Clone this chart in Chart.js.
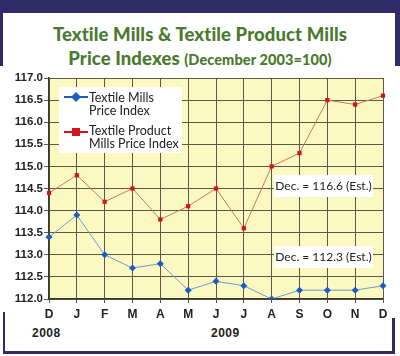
<!DOCTYPE html>
<html>
<head>
<meta charset="utf-8">
<script src="https://cdn.jsdelivr.net/npm/chart.js@4/dist/chart.umd.min.js"></script>
<style>
  html,body{margin:0;padding:0;background:#fff;}
  #wrap{position:relative;width:400px;height:356px;overflow:hidden;background:#fff;}
  .bar{position:absolute;background:#2f2b66;}
  #title{position:absolute;left:0;top:22px;width:400px;text-align:center;color:#4a7a2f;font-family:Lato,"Open Sans",sans-serif;font-weight:900;font-size:18.5px;line-height:24px;letter-spacing:0.1px;}
  #title .sub{font-size:14.5px;}
  .year{position:absolute;font-family:"Liberation Sans",Arial,sans-serif;font-weight:bold;font-size:12px;color:#222;letter-spacing:0.5px;}
  canvas{position:absolute;left:0;top:0;}
</style>
</head>
<body>
<div id="wrap">
  <div class="bar" style="left:0;top:0;width:400px;height:13px;"></div>
  <div class="bar" style="left:0;top:0;width:3px;height:66px;"></div>
  <div class="bar" style="left:395px;top:0;width:5px;height:66px;"></div>
  <div class="bar" style="left:3px;top:312px;width:2px;height:42px;"></div>
  <div class="bar" style="left:3px;top:351px;width:392px;height:3px;"></div>
  <div class="bar" style="left:392px;top:318px;width:3px;height:36px;"></div>
  <div id="title">Textile Mills &amp; Textile Product Mills<br>Price Indexes <span class="sub">(December 2003=100)</span></div>
  <div class="year" style="left:32px;top:326px;">2008</div>
  <div class="year" style="left:211px;top:326px;">2009</div>
  <canvas id="c" width="400" height="356"></canvas>
</div>
<script>
const months = ['D','J','F','M','A','M','J','J','A','S','O','N','D'];
const textileMills = [113.4,113.9,113.0,112.7,112.8,112.2,112.4,112.3,112.0,112.2,112.2,112.2,112.3];
const textileProductMills = [114.4,114.8,114.2,114.5,113.8,114.1,114.5,113.6,115.0,115.3,116.5,116.4,116.6];
const yMin = 112.0, yMax = 117.0, yStep = 0.5;
const legendLabels = [['Textile Mills','Price Index'],['Textile Product','Mills Price Index']];
const notes = ['Dec. = 116.6 (Est.)','Dec. = 112.3 (Est.)'];

const colBlueLine = '#6f9dc6', colBluePt = '#1a5cc0';
const colRedLine = '#c47a66', colRedPt = '#d4141c';

const deco = {
  id:'deco',
  beforeDraw(chart){
    const {ctx, chartArea:a} = chart;
    ctx.save();
    ctx.fillStyle = '#fcf8c2';
    ctx.fillRect(a.left, a.top, a.right-a.left, a.bottom-a.top);
    ctx.restore();
  },
  afterDraw(chart){
    const ctx = chart.ctx;
    ctx.save();
    ctx.fillStyle = '#fff';
    ctx.fillRect(59, 87, 123, 66);
    ctx.font = '12.5px Lato, "Open Sans", sans-serif';
    ctx.textBaseline = 'middle';
    const rows = [
      {ly:97, pc:colBluePt, diamond:true, t:legendLabels[0], ty:[98,111]},
      {ly:132, pc:colRedPt, diamond:false, t:legendLabels[1], ty:[131,144]}
    ];
    rows.forEach(r=>{
      ctx.strokeStyle = r.pc; ctx.lineWidth = 2;
      ctx.beginPath(); ctx.moveTo(64, r.ly); ctx.lineTo(88, r.ly); ctx.stroke();
      ctx.fillStyle = r.pc;
      ctx.beginPath();
      if (r.diamond){ ctx.moveTo(76, r.ly-5); ctx.lineTo(81, r.ly); ctx.lineTo(76, r.ly+5); ctx.lineTo(71, r.ly); }
      else { ctx.rect(72, r.ly-4, 8, 8); }
      ctx.closePath(); ctx.fill();
      ctx.fillStyle = '#222';
      ctx.textAlign = 'left';
      ctx.fillText(r.t[0], 89, r.ty[0]);
      ctx.fillText(r.t[1], 89, r.ty[1]);
    });
    const boxes = [{t:notes[0], cy:186}, {t:notes[1], cy:257}];
    ctx.font = '12px Lato, "Open Sans", sans-serif';
    boxes.forEach(b=>{
      ctx.fillStyle = '#fff';
      ctx.fillRect(274, b.cy-11, 99, 22);
      ctx.fillStyle = '#222';
      ctx.textAlign = 'center';
      ctx.fillText(b.t, 323.5, b.cy);
    });
    ctx.restore();
  }
};

new Chart(document.getElementById('c'), {
  type:'line',
  data:{
    labels: months,
    datasets:[
      {label:'Textile Mills Price Index', data:textileMills, borderColor:colBlueLine, borderWidth:1,
       pointStyle:'rectRot', pointRadius:3.5, pointBackgroundColor:colBluePt, pointBorderColor:colBluePt, pointBorderWidth:0, tension:0},
      {label:'Textile Product Mills Price Index', data:textileProductMills, borderColor:colRedLine, borderWidth:1,
       pointStyle:'rect', pointRadius:3, pointBackgroundColor:colRedPt, pointBorderColor:colRedPt, pointBorderWidth:0, tension:0}
    ]
  },
  options:{
    responsive:false, animation:false, devicePixelRatio:1,
    layout:{padding:{left:0, top:78, right:17, bottom:37}},
    plugins:{legend:{display:false}, tooltip:{enabled:false}, title:{display:false}},
    scales:{
      x:{
        offset:false,
        grid:{color:'#5c5a44', lineWidth:1, tickLength:4, drawTicks:true},
        border:{color:'#3a3a2a', width:1.5},
        ticks:{color:'#222', font:{family:'"Liberation Sans", Arial, sans-serif', weight:'bold', size:12}, padding:4, maxRotation:0, autoSkip:false},
        afterFit(s){ s.height = 20; }
      },
      y:{
        min:yMin, max:yMax,
        grid:{color:'#5c5a44', lineWidth:1, tickLength:5, drawTicks:true},
        border:{color:'#3a3a2a', width:1.5},
        ticks:{stepSize:yStep, color:'#222', font:{family:'"Liberation Sans", Arial, sans-serif', weight:'bold', size:11.5}, padding:1,
          callback:(v)=>Number(v).toFixed(1)},
        afterFit(s){ s.width = 49; }
      }
    }
  },
  plugins:[deco]
});
</script>
</body>
</html>
